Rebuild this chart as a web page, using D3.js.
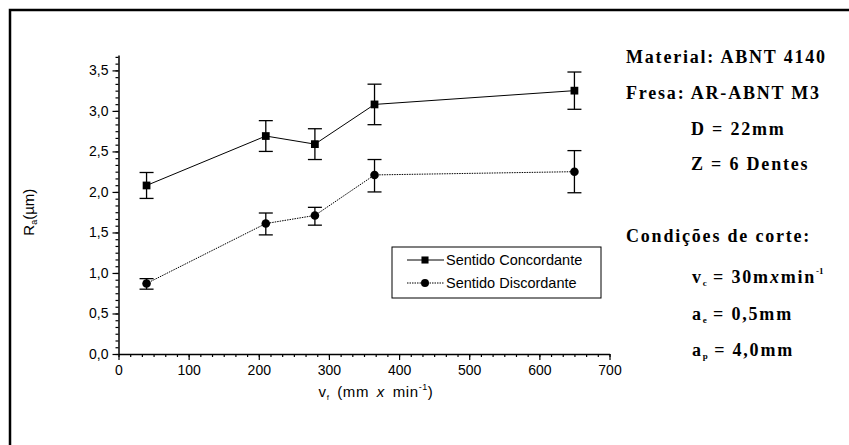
<!DOCTYPE html>
<html>
<head>
<meta charset="utf-8">
<script src="https://cdn.jsdelivr.net/npm/d3@7"></script>
<style>
  body { margin: 0; background: #fff; }
  svg { display: block; }
  .axis text { font-family: "Liberation Sans", Arial, sans-serif; font-size: 14px; fill: #000; }
  .info { font-family: "Liberation Serif", "Times New Roman", serif; font-weight: bold; font-size: 18px; letter-spacing: 1.8px; fill: #000; }
</style>
</head>
<body>
<div id="chart"></div>
<script>
// feed rate (mm x min^-1)
var vf = [40, 210, 280, 365, 650];

// Ra (um) - sentido concordante
var conc     = [2.08, 2.69, 2.59, 3.08, 3.25];
var concLow  = [1.92, 2.50, 2.40, 2.83, 3.02];
var concHigh = [2.24, 2.88, 2.78, 3.33, 3.48];

// Ra (um) - sentido discordante
var disc     = [0.87, 1.61, 1.71, 2.21, 2.25];
var discLow  = [0.80, 1.47, 1.59, 2.00, 1.99];
var discHigh = [0.93, 1.74, 1.81, 2.40, 2.51];

var xTicks = [0, 100, 200, 300, 400, 500, 600, 700];
var yTicks = [0, 0.5, 1.0, 1.5, 2.0, 2.5, 3.0, 3.5];

var seriesNames = ["Sentido Concordante", "Sentido Discordante"];

const W = 849, H = 445;
const margin = {top: 55, right: 239.5, bottom: 91, left: 118.5},
    width = W - margin.left - margin.right,
    height = H - margin.top - margin.bottom;

const svg = d3.select("#chart").append("svg")
    .attr("width", W)
    .attr("height", H);

// frame (only top and left visible in the picture)
svg.append("path")
  .attr("d", "M10,446 L10,10 L850,10")
  .attr("fill", "none")
  .attr("stroke", "#000")
  .attr("stroke-width", 2.5);

const g = svg.append("g")
    .attr("transform", `translate(${margin.left},${margin.top})`);

const x = d3.scaleLinear().domain([0, 700]).range([0, width]);
const y = d3.scaleLinear().domain([0, 3.69]).range([height, 0]);

const fmt = function(d) { return d3.format(".1f")(d).replace(".", ","); };

// minor ticks
var xMinor = d3.range(0, 700.01, 100 / 6);
var yMinor = d3.range(0, 3.69, 0.5 / 6);

g.append("g")
  .attr("transform", `translate(0,${height})`)
  .call(d3.axisBottom(x).tickValues(xMinor).tickSize(3).tickFormat(""))
  .call(function(a) { a.select(".domain").remove(); });
g.append("g")
  .call(d3.axisLeft(y).tickValues(yMinor).tickSize(3).tickFormat(""))
  .call(function(a) { a.select(".domain").remove(); });

g.append("g")
  .attr("class", "axis")
  .attr("transform", `translate(0,${height})`)
  .call(d3.axisBottom(x).tickValues(xTicks).tickSize(6).tickSizeOuter(0).tickPadding(5));
g.append("g")
  .attr("class", "axis")
  .call(d3.axisLeft(y).tickValues(yTicks).tickFormat(fmt).tickSize(6).tickSizeOuter(0).tickPadding(4));

g.selectAll(".domain").attr("stroke-width", 1.5);
g.selectAll(".tick line").attr("stroke-width", 1.2);

// x label
const xl = svg.append("text")
  .attr("x", 376)
  .attr("y", 397)
  .attr("text-anchor", "middle")
  .style("font-family", "Liberation Sans, Arial, sans-serif")
  .style("font-size", "15px")
  .style("word-spacing", "3px")
  .style("letter-spacing", "0.6px");
xl.append("tspan").text("v");
xl.append("tspan").attr("font-size", "8px").attr("dy", 3).text("f");
xl.append("tspan").attr("dy", -3).text(" (mm ");
xl.append("tspan").attr("font-style", "italic").text("x");
xl.append("tspan").text(" min");
xl.append("tspan").attr("font-size", "9px").attr("dy", -7).text("-1");
xl.append("tspan").attr("dy", 7).text(")");

// y label
const yl = svg.append("text")
  .attr("transform", `translate(34,${margin.top + y(1.75)}) rotate(-90)`)
  .attr("text-anchor", "middle")
  .style("font-family", "Liberation Sans, Arial, sans-serif")
  .style("font-size", "15px");
yl.append("tspan").text("R");
yl.append("tspan").attr("font-size", "9px").attr("dy", 3).text("a");
yl.append("tspan").attr("dy", -3).text("(\u00b5m)");

// series
function drawSeries(vals, lo, hi, dash, shape) {
  var pts = vf.map(function(d, i) { return {x: d, y: vals[i], lo: lo[i], hi: hi[i]}; });
  g.append("path")
    .datum(pts)
    .attr("fill", "none")
    .attr("stroke", "#000")
    .attr("stroke-width", 1)
    .attr("stroke-dasharray", dash)
    .attr("d", d3.line().x(function(d) { return x(d.x); }).y(function(d) { return y(d.y); }));

  var eb = g.append("g").selectAll("g").data(pts).enter().append("g");
  eb.append("line")
    .attr("x1", function(d) { return x(d.x); }).attr("x2", function(d) { return x(d.x); })
    .attr("y1", function(d) { return y(d.lo); }).attr("y2", function(d) { return y(d.hi); })
    .attr("stroke", "#000").attr("stroke-width", 1.3);
  ["lo", "hi"].forEach(function(k) {
    eb.append("line")
      .attr("x1", function(d) { return x(d.x) - 7; }).attr("x2", function(d) { return x(d.x) + 7; })
      .attr("y1", function(d) { return y(d[k]); }).attr("y2", function(d) { return y(d[k]); })
      .attr("stroke", "#000").attr("stroke-width", 1.3);
  });

  g.append("g").selectAll("path").data(pts).enter().append("path")
    .attr("transform", function(d) { return `translate(${x(d.x)},${y(d.y)})`; })
    .attr("d", d3.symbol().type(shape).size(shape === d3.symbolSquare ? 60 : 58))
    .attr("fill", "#000");
}

drawSeries(conc, concLow, concHigh, null, d3.symbolSquare);
drawSeries(disc, discLow, discHigh, "1.5,1", d3.symbolCircle);

// legend
const lg = svg.append("g").attr("transform", "translate(392,247)");
lg.append("rect")
  .attr("width", 209).attr("height", 51)
  .attr("fill", "#fff").attr("stroke", "#000").attr("stroke-width", 1);
seriesNames.forEach(function(name, i) {
  var cy = 13 + i * 23;
  lg.append("line")
    .attr("x1", 15).attr("x2", 52).attr("y1", cy).attr("y2", cy)
    .attr("stroke", "#000").attr("stroke-width", 1)
    .attr("stroke-dasharray", i ? "1.5,1" : null);
  lg.append("path")
    .attr("transform", `translate(33,${cy})`)
    .attr("d", d3.symbol().type(i ? d3.symbolCircle : d3.symbolSquare).size(50))
    .attr("fill", "#000");
  lg.append("text")
    .attr("x", 54).attr("y", cy + 5)
    .style("font-family", "Liberation Sans, Arial, sans-serif")
    .style("font-size", "14.5px")
    .text(name);
});

// info block on the right
function info(xp, yp, parts) {
  var t = svg.append("text").attr("class", "info").attr("x", xp).attr("y", yp);
  parts.forEach(function(p) {
    var s = t.append("tspan").text(p.t);
    if (p.sub) s.attr("font-size", "9px").attr("dy", 3).style("letter-spacing", "0px");
    if (p.sup) s.attr("font-size", "9px").attr("dy", -9).style("letter-spacing", "0px");
    if (p.dy) s.attr("dy", p.dy);
    if (p.it) s.attr("font-style", "italic");
  });
}
info(626, 63, [{t: "Material: ABNT 4140"}]);
info(626, 99, [{t: "Fresa: AR-ABNT M3"}]);
info(691, 135, [{t: "D = 22mm"}]);
info(691, 170, [{t: "Z = 6 Dentes"}]);
info(626, 242, [{t: "Condi\u00e7\u00f5es de corte:"}]);
info(692, 283, [{t: "v"}, {t: "c", sub: true}, {t: " = 30m", dy: -3}, {t: "x", it: true}, {t: "min"}, {t: "-1", sup: true}]);
info(692, 320, [{t: "a"}, {t: "e", sub: true}, {t: " = 0,5mm", dy: -3}]);
info(692, 356, [{t: "a"}, {t: "p", sub: true}, {t: " = 4,0mm", dy: -3}]);
</script>
</body>
</html>
